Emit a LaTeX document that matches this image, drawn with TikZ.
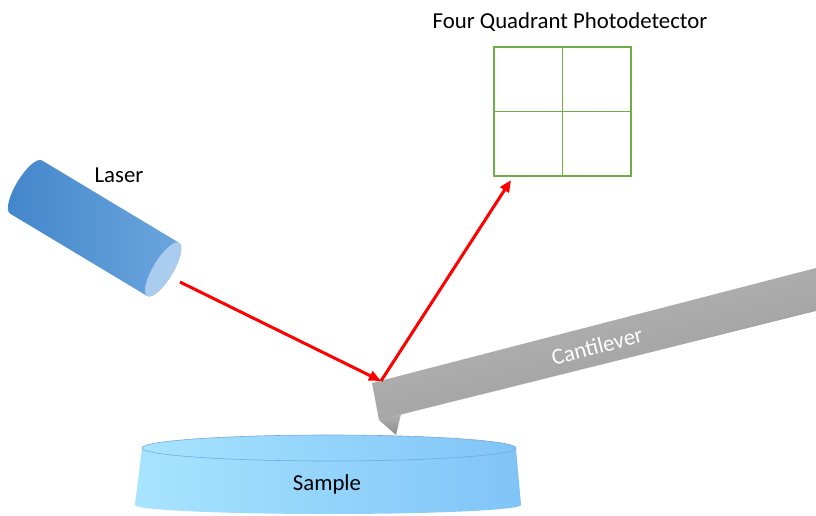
\documentclass[tikz,border=0pt]{standalone}
\usepackage{fontspec}
\setmainfont{Carlito}
\usetikzlibrary{arrows.meta}

\definecolor{laserdark}{RGB}{66,134,202}
\definecolor{laserlight}{RGB}{108,166,222}
\definecolor{laserface}{RGB}{170,204,238}
\definecolor{detgreen}{RGB}{112,173,71}
\definecolor{samplelight}{RGB}{168,228,255}
\definecolor{sampledark}{RGB}{128,196,247}
\definecolor{sampleedge}{RGB}{118,168,224}
\definecolor{beamred}{RGB}{255,0,0}

\tikzset{
  label/.style={font=\fontsize{22.8}{26}\selectfont},
  beam/.style={beamred,line width=3pt,-{Triangle[length=12pt,width=10pt]}},
  quad/.style={draw=detgreen,line width=1.3pt}
}

\begin{document}
\begin{tikzpicture}[x=1pt,y=1pt]
\useasboundingbox (0,0) rectangle (816,515);

% laser
\begin{scope}[shift={(26,328)},rotate=-31]
\shade[left color=laserdark,right color=laserlight]
  (0,31) -- (160,31) arc[start angle=90,end angle=-90,x radius=10,y radius=31]
  -- (0,-31) arc[start angle=270,end angle=90,x radius=10,y radius=31] -- cycle;
\fill[laserface] (160,0) ellipse [x radius=10,y radius=31];
\end{scope}
\node[label] (laser) at (119,340) {Laser};

% sample
\shade[left color=samplelight,right color=sampledark]
  (142,67) -- (135,10) arc[start angle=180,end angle=360,x radius=193,y radius=9]
  -- (516,67) arc[start angle=0,end angle=180,x radius=187,y radius=13] -- cycle;
\draw[sampleedge,line width=0.6pt] (329,67) ellipse [x radius=187,y radius=13];
\node[label] (sample) at (327,31) {Sample};

% cantilever
\shade[top color=black!27,bottom color=black!40,shading angle=14.5]
  (372,132) -- (816,247) -- (816,204) -- (379,95) -- cycle;
\shade[top color=black!30,bottom color=black!45]
  (379,95) -- (401,101) -- (396,80) -- cycle;
\node[label,white,rotate=14.5] (cantilever) at (597,169) {Cantilever};

% photodetector
\node[quad,minimum width=137pt,minimum height=129pt,inner sep=0pt] (det) at (562.5,403.5) {};
\draw[quad] (det.north) -- (det.south);
\draw[quad] (det.west) -- (det.east);
\node[label] (title) at (570,493) {Four Quadrant Photodetector};

% beam path
\coordinate (laserout) at (180,233);
\coordinate (spot) at (381,134);
\coordinate (detin) at (511,335);
\draw[beam] (laserout) -- (spot);
\draw[beam] (spot) -- (detin);
\end{tikzpicture}
\end{document}
